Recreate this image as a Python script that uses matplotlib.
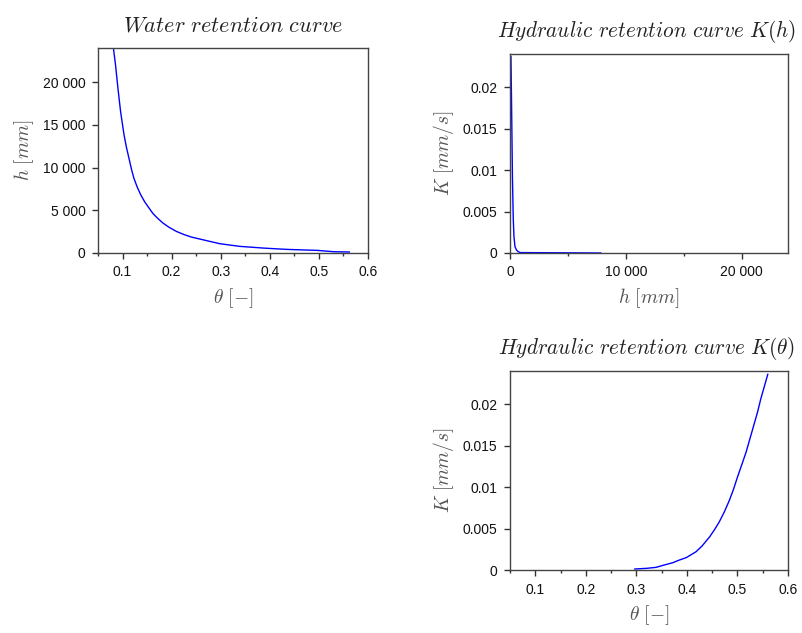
import matplotlib
matplotlib.use("Agg")
import matplotlib.pyplot as plt
from matplotlib.ticker import FuncFormatter, MultipleLocator

plt.rcParams['mathtext.fontset'] = 'cm'
plt.rcParams['font.family'] = ['Liberation Sans', 'DejaVu Sans']

# Water retention curve h(theta)
theta_wr = [0.081, 0.0857, 0.0906, 0.096, 0.103, 0.108, 0.113, 0.118, 0.123, 0.130, 0.137,
            0.145, 0.154, 0.162, 0.171, 0.182, 0.195, 0.210, 0.226, 0.240, 0.257, 0.280,
            0.298, 0.320, 0.339, 0.360, 0.386, 0.410, 0.434, 0.465, 0.496, 0.530, 0.562]
h_wr = [24165, 22020, 19300, 16560, 13840, 12350, 11110, 9850, 8770, 7700, 6820,
        6000, 5260, 4620, 4090, 3520, 3000, 2520, 2140, 1870, 1640, 1330,
        1090, 920, 775, 690, 580, 500, 425, 365, 310, 150, 115]

# Hydraulic curve K(h)
h_k = [80, 130, 210, 280, 340, 430, 560, 700, 900, 7840]
K_h = [0.0237, 0.0186, 0.0092, 0.0042, 0.0020, 0.00076, 0.00036, 0.00016, 0.00005, 0.0]

# Hydraulic curve K(theta)
theta_k = [0.297, 0.320, 0.339, 0.355, 0.372, 0.385, 0.399, 0.418, 0.430, 0.445, 0.455,
           0.464, 0.474, 0.484, 0.492, 0.500, 0.508, 0.517, 0.525, 0.533, 0.540, 0.546,
           0.553, 0.560]
K_theta = [0.00012, 0.0002, 0.00032, 0.0006, 0.00088, 0.0012, 0.0015, 0.0022, 0.0029,
           0.0040, 0.0049, 0.0058, 0.0070, 0.0084, 0.0097, 0.0112, 0.0126, 0.0142, 0.0159,
           0.0176, 0.0191, 0.0206, 0.0221, 0.0236]

titles = [r'$Water\ retention\ curve$', r'$Hydraulic\ retention\ curve\ K(h)$',
          r'$Hydraulic\ retention\ curve\ K(\theta)$']
title_sizes = [16, 15.3, 15.3]
xlabels = [r'$\theta\ [-]$', r'$h\ [mm]$', r'$\theta\ [-]$']
ylabels = [r'$h\ [mm]$', r'$K\ [mm/s]$', r'$K\ [mm/s]$']

fig = plt.figure(figsize=(8.03, 6.33), dpi=100)
W, H = 803, 633
def rect(l, t, r, b):
    return [l / W, 1 - b / H, (r - l) / W, (b - t) / H]

ax1 = fig.add_axes(rect(98, 48, 368, 253))
ax2 = fig.add_axes(rect(510, 54, 788, 253))
ax3 = fig.add_axes(rect(510, 371, 788, 570))

blue = '#0000ff'
ax1.plot(theta_wr, h_wr, color=blue, lw=1.0)
ax2.plot(h_k, K_h, color=blue, lw=1.0)
ax3.plot(theta_k, K_theta, color=blue, lw=1.0)

def thousands(v, pos):
    return f"{int(round(v)):,}".replace(",", " ")

def plain(v, pos):
    s = f"{v:.3f}".rstrip('0').rstrip('.')
    return s if s != '-0' else '0'

ax1.set_xlim(0.05, 0.6)
ax1.set_ylim(0, 24000)
ax1.xaxis.set_major_locator(MultipleLocator(0.1))
ax1.xaxis.set_minor_locator(MultipleLocator(0.05))
ax1.yaxis.set_major_locator(MultipleLocator(5000))
ax1.yaxis.set_major_formatter(FuncFormatter(thousands))
ax1.xaxis.set_major_formatter(FuncFormatter(plain))

ax2.set_xlim(0, 24000)
ax2.set_ylim(0, 0.024)
ax2.xaxis.set_major_locator(MultipleLocator(10000))
ax2.xaxis.set_minor_locator(MultipleLocator(5000))
ax2.yaxis.set_major_locator(MultipleLocator(0.005))
ax2.xaxis.set_major_formatter(FuncFormatter(thousands))
ax2.yaxis.set_major_formatter(FuncFormatter(plain))

ax3.set_xlim(0.05, 0.6)
ax3.set_ylim(0, 0.024)
ax3.xaxis.set_major_locator(MultipleLocator(0.1))
ax3.xaxis.set_minor_locator(MultipleLocator(0.05))
ax3.yaxis.set_major_locator(MultipleLocator(0.005))
ax3.xaxis.set_major_formatter(FuncFormatter(plain))
ax3.yaxis.set_major_formatter(FuncFormatter(plain))

for ax, t, ts, xl, yl in zip([ax1, ax2, ax3], titles, title_sizes, xlabels, ylabels):
    ax.set_title(t, fontsize=ts, pad=12, color='#222222')
    ax.set_xlabel(xl, fontsize=14, color='#555555', labelpad=5)
    ax.set_ylabel(yl, fontsize=14, color='#555555', labelpad=5)
    for sp in ax.spines.values():
        sp.set_color('#444444')
        sp.set_linewidth(1.0)
    ax.tick_params(which='major', direction='out', length=4, width=1, color='#333333',
                   labelsize=10, labelcolor='#111111', pad=5)
    ax.tick_params(which='minor', direction='out', length=2.5, width=1, color='#333333')

# keep right-hand titles inside the figure
for ax in (ax2, ax3):
    ax.title.set_x(0.49)

fig.savefig('out.png', dpi=100)
